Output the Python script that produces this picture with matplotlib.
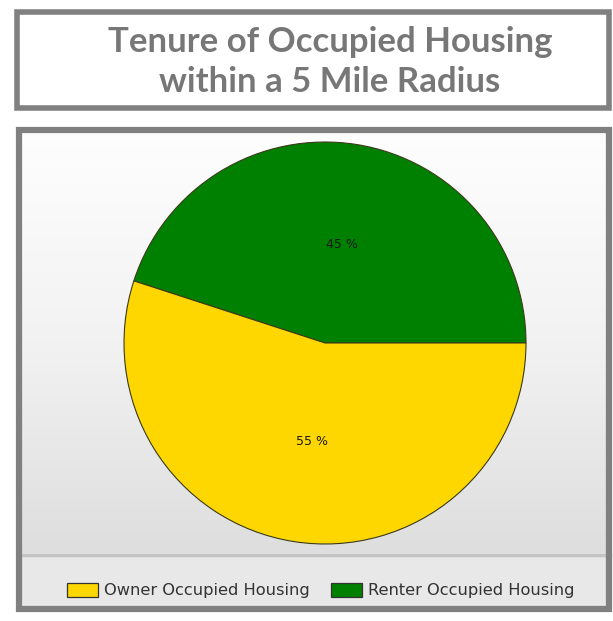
import matplotlib
matplotlib.use("Agg")
import matplotlib.pyplot as plt
import numpy as np
from matplotlib.patches import Rectangle

title_lines = ["Tenure of Occupied Housing", "within a 5 Mile Radius"]
categories = ["Owner Occupied Housing", "Renter Occupied Housing"]
values = [55, 45]
colors = ["#FFD700", "#008000"]

W, H = 613, 621
fig = plt.figure(figsize=(W / 100, H / 100), dpi=100)
fig.patch.set_facecolor("white")
renderer = fig.canvas.get_renderer()

bg = fig.add_axes([0, 0, 1, 1])
bg.set_xlim(0, W)
bg.set_ylim(H, 0)
bg.axis("off")


def fit_size(txt, target_px, **kw):
    t = fig.text(0, 0, txt, fontsize=10, **kw)
    w = t.get_window_extent(renderer).width
    t.remove()
    return 10 * target_px / w


# title box
bg.add_patch(Rectangle((17, 12), 592, 96, facecolor="white", edgecolor="#808080", lw=4))
tkw = dict(fontweight="bold", family="Lato")
tsize = fit_size(title_lines[0], 446, **tkw)
bg.text(330, 52, title_lines[0], ha="center", va="baseline", fontsize=tsize, color="#777777", **tkw)
bg.text(330, 92, title_lines[1], ha="center", va="baseline", fontsize=tsize, color="#777777", **tkw)

# chart panel gradient
grad = np.linspace(0, 1, 256).reshape(-1, 1)
bg.imshow(grad, extent=(20, 610, 553, 131), cmap=matplotlib.colors.LinearSegmentedColormap.from_list(
    "g", ["#fefefe", "#f2f2f2", "#dedede"]), aspect="auto", zorder=1)
bg.add_patch(Rectangle((20, 553), 590, 55, facecolor="#e8e8e8", edgecolor="none", zorder=1))
bg.plot([20, 610], [555, 555], color="#c4c4c4", lw=2.5, zorder=2)
bg.add_patch(Rectangle((19, 130), 590, 479, facecolor="none", edgecolor="#808080", lw=4.5, zorder=3))

# legend
lkw = dict(family="DejaVu Sans")
lsize = fit_size(categories[0], 205, **lkw)
leg_x = [67, 331]
for i, (cat, col) in enumerate(zip(categories, colors)):
    bg.add_patch(Rectangle((leg_x[i], 583), 31, 14, facecolor=col, edgecolor="#333333", lw=0.9, zorder=4))
    bg.text(leg_x[i] + 37, 590, cat, ha="left", va="center", fontsize=lsize, color="#333333",
            zorder=4, **lkw)

# pie
cx, cy, r = 325, 343, 203
pax = fig.add_axes([(cx - r) / W, 1 - (cy + r) / H, 2 * r / W, 2 * r / H])
pax.set_zorder(5)
wedges, texts = pax.pie(values[::-1], colors=colors[::-1], startangle=0, counterclock=True,
                        wedgeprops=dict(edgecolor="#3a3a1a", linewidth=0.8), radius=1)
pax.set_xlim(-1.01, 1.01)
pax.set_ylim(-1.01, 1.01)
pax.set_aspect("equal")
pax.axis("off")
pax.text((342 - cx) / r, -(244 - cy) / r, f"{values[1]} %", ha="center", va="center",
         fontsize=9, color="#1a1a1a")
pax.text((312 - cx) / r, -(442 - cy) / r, f"{values[0]} %", ha="center", va="center",
         fontsize=9, color="#1a1a1a")

fig.savefig("out.png", dpi=100)
